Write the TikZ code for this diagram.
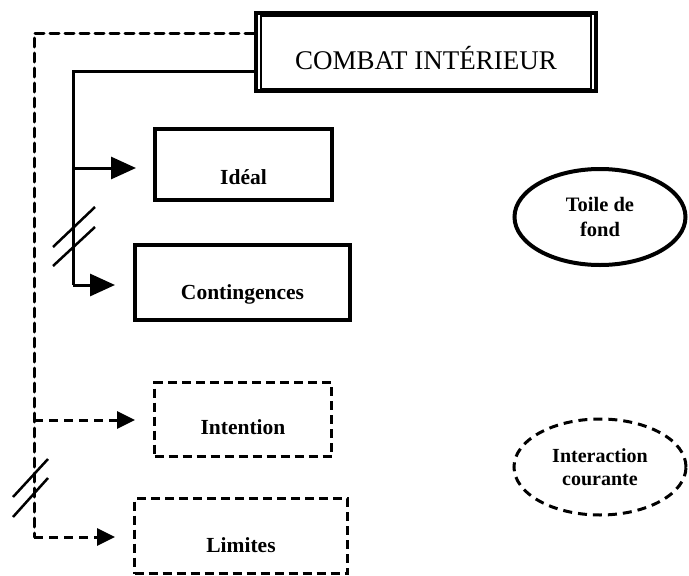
\documentclass[tikz,border=0pt]{standalone}
\usepackage{fontspec}
\setmainfont{Liberation Serif}
\usetikzlibrary{arrows.meta,shapes.geometric}

% labels sit a little below the middle of their boxes
\newcommand{\lowlabel}[2][9pt]{\raisebox{-#1}[\height][\depth]{#2}}

\begin{document}
\begin{tikzpicture}[x=1pt,y=-1pt,
  solidbox/.style={draw,line width=4pt,inner sep=0pt,
    font=\fontsize{21.5}{24}\selectfont\bfseries},
  dashbox/.style={draw,line width=3pt,dash pattern=on 9pt off 5pt,inner sep=0pt,
    font=\fontsize{21.5}{24}\selectfont\bfseries},
  solidlink/.style={line width=3pt,-{Triangle[length=25pt,width=22pt]}},
  dashlink/.style={line width=3pt,dash pattern=on 9pt off 6pt,
    -{Triangle[length=18pt,width=17pt]}},
  slashmark/.style={line width=2.5pt},
]
\useasboundingbox (0,0) rectangle (689,576);

% main heading box with its inner frame
\node[draw,line width=4pt,inner sep=0pt,minimum width=340pt,minimum height=78pt,
  font=\fontsize{27}{30}\selectfont] (combat) at (426,52)
  {\lowlabel[6pt]{COMBAT INTÉRIEUR}};
\draw[line width=1.8pt] ([shift={(7,5)}]combat.north west)
  rectangle ([shift={(-7,-4)}]combat.south east);

% boxes
\node[solidbox,minimum width=177pt,minimum height=71pt] (ideal) at (243.5,164.5)
  {\lowlabel[13pt]{Idéal}};
\node[solidbox,minimum width=215pt,minimum height=75pt] (conting) at (242.5,282.5)
  {\lowlabel[12pt]{Contingences}};
\node[dashbox,minimum width=177pt,minimum height=74pt] (intent) at (243,419.5)
  {\lowlabel[8pt]{Intention}};
\node[dashbox,minimum width=213pt,minimum height=75pt] (limits) at (241,536)
  {\lowlabel{Limites}};

% legend ellipses
\node[ellipse,draw,line width=4pt,inner sep=0pt,minimum width=171pt,minimum height=96pt,
  align=center,font=\fontsize{20.5}{25}\selectfont\bfseries] (toile) at (600,217)
  {Toile de\\fond};
\node[ellipse,draw,line width=3pt,dash pattern=on 9pt off 6pt,inner sep=0pt,
  minimum width=172pt,minimum height=96pt,align=center,
  font=\fontsize{20}{23}\selectfont\bfseries] (interact) at (600,467)
  {Interaction\\courante};

% solid branch: combat -> Idéal / Contingences
\coordinate (stop) at (73,71);
\coordinate (smid) at (73,168);
\coordinate (sbot) at (73,285);
\draw[line width=3pt] (combat.west |- stop) -- (stop) -- (sbot);
\draw[solidlink,shorten >=17pt] (smid) -- (smid -| ideal.west);
\draw[solidlink,shorten >=18pt] (sbot) -- (sbot -| conting.west);
\draw[slashmark] (53,247) -- (95,207);
\draw[slashmark] (53,266) -- (95,227);

% dashed branch: combat -> Intention / Limites
\coordinate (dtop) at (34,33);
\coordinate (dmid) at (34,420);
\coordinate (dbot) at (34,537);
\draw[line width=3pt,dash pattern=on 9pt off 6pt,line cap=round]
  (combat.west |- dtop) -- (dtop) -- (dbot);
\draw[dashlink,shorten >=18pt] (dmid) -- (dmid -| intent.west);
\draw[dashlink,shorten >=18pt] (dbot) -- (dbot -| limits.west);
\draw[slashmark] (13,497) -- (48,459);
\draw[slashmark] (13,517) -- (48,478);
\end{tikzpicture}
\end{document}
